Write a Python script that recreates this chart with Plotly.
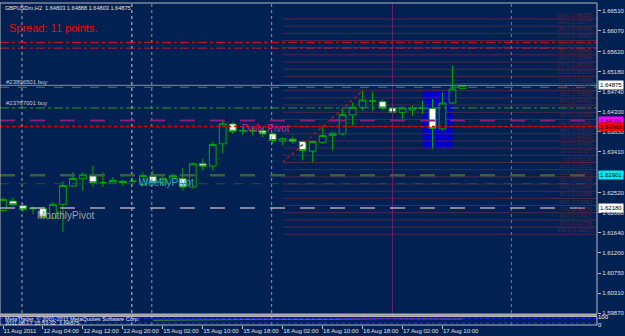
import plotly.graph_objects as go

BG = "#002152"
GREEN = "#00a800"

# ---------------- data ----------------
bars = list(range(47))
opens = [1.62127, 1.62331, 1.62230, 1.62160, 1.62164, 1.61958, 1.62259, 1.62660, 1.62822, 1.62894,
         1.62732, 1.62725, 1.62763, 1.62761, 1.62697, 1.62879, 1.62741, 1.62835, 1.62822, 1.62638,
         1.63157, 1.63098, 1.63589, 1.64027, 1.63874, 1.63876, 1.63880, 1.63808, 1.63646, 1.63690,
         1.63639, 1.63427, 1.63624, 1.63771, 1.63808, 1.64224, 1.64391, 1.64528, 1.64516, 1.64378,
         1.64281, 1.64334, 1.64366, 1.64369, 1.63917, 1.64487, 1.64803]
highs = [1.62412, 1.62412, 1.62287, 1.62215, 1.62199, 1.62302, 1.62769, 1.62966, 1.62966, 1.63113,
         1.62966, 1.62857, 1.62806, 1.62806, 1.62960, 1.63004, 1.62872, 1.62931, 1.63063, 1.63179,
         1.63260, 1.63639, 1.64099, 1.64062, 1.63953, 1.63953, 1.63953, 1.63843, 1.63733, 1.63749,
         1.63661, 1.63661, 1.63968, 1.63843, 1.64362, 1.64500, 1.64757, 1.64735, 1.64560, 1.64465,
         1.64406, 1.64428, 1.64538, 1.64575, 1.64720, 1.65305, 1.64888]
lows = [1.62083, 1.62215, 1.62090, 1.62039, 1.61952, 1.61930, 1.61652, 1.62638, 1.62550, 1.62638,
        1.62638, 1.62720, 1.62660, 1.62697, 1.62653, 1.62675, 1.62675, 1.62806, 1.62565, 1.62603,
        1.63004, 1.63004, 1.63383, 1.63808, 1.63786, 1.63771, 1.63733, 1.63589, 1.63552, 1.63595,
        1.63223, 1.63186, 1.63589, 1.63442, 1.63771, 1.63990, 1.64319, 1.64319, 1.64340, 1.64172,
        1.64143, 1.64209, 1.64246, 1.63479, 1.63880, 1.64465, 1.64803]
closes = [1.62368, 1.62252, 1.62149, 1.62166, 1.61974, 1.62259, 1.62675, 1.62828, 1.62909, 1.62734,
          1.62738, 1.62785, 1.62734, 1.62767, 1.62894, 1.62734, 1.62828, 1.62894, 1.62638, 1.63150,
          1.63098, 1.63573, 1.64027, 1.63865, 1.63880, 1.63882, 1.63808, 1.63661, 1.63698, 1.63646,
          1.63442, 1.63639, 1.63771, 1.63821, 1.64231, 1.64391, 1.64553, 1.64534, 1.64378, 1.64281,
          1.64378, 1.64378, 1.64372, 1.63931, 1.64487, 1.64794, 1.64875]

x_tick_bars = [0, 4, 8, 12, 16, 20, 24, 28, 32, 36, 40, 44]
x_tick_labels = ["11 Aug 2011", "12 Aug 04:00", "12 Aug 12:00", "12 Aug 20:00", "15 Aug 02:00",
                 "15 Aug 10:00", "15 Aug 18:00", "16 Aug 02:00", "16 Aug 10:00", "16 Aug 18:00",
                 "17 Aug 02:00", "17 Aug 10:00"]
price_ticks = [1.66510, 1.66070, 1.65620, 1.65180, 1.64740, 1.64300, 1.63850, 1.63410,
               1.62960, 1.62520, 1.62080, 1.61640, 1.61200, 1.60750, 1.60310, 1.59870]
price_tick_labels = [f"{p:.5f}" for p in price_ticks]

bid_price = 1.64875
order_prices = [1.64833, 1.64378]
order_labels = ["#23806501 buy", "#23767001 buy"]
tp_prices = [1.65820, 1.65692]
daily_pivot = 1.64102
red_level = 1.63968
weekly_pivot = 1.62901
weekly_mid = 1.62712
monthly_pivot = 1.62180

fib_low = 1.63179
fib_high = 1.64757
fib_bars = [28, 36]
fib_pcts = list(range(-100, 201, 10))

rect_bars = [42, 45]
rect_prices = [1.63479, 1.64757]

sep_bars = [2, 13, 15, 27, 51]
sep_colors = ["#c8a0a8", "#d0d0d8", "#b88890", "#b88890", "#8a7468"]
purple_bar = 39

ind_bars = list(range(15, 47))
ind_red = [62, 64, 63, 65, 66, 64, 63, 67, 70, 72, 71, 70, 69, 68, 66, 65,
           66, 67, 69, 72, 75, 78, 80, 79, 77, 75, 73, 72, 70, 69, 70, 72]
ind_green = [55, 57, 58, 60, 61, 60, 59, 62, 65, 68, 69, 68, 67, 66, 65, 63,
             64, 65, 67, 70, 73, 76, 79, 80, 78, 76, 74, 73, 71, 70, 71, 73]
ind_levels = [80, 20]

# ---------------- layout geometry ----------------
W, H = 625, 336
PL, PR, PT, PB = 0, 603, 2, 325
MAIN_BOTTOM_PX = 314
SUB_TOP_PX = 316.5
X_RANGE = [-0.3, 59.47]
Y_RANGE = [1.59848, 1.66685]


def py(yp):
    return (PB - yp) / (PB - PT)


def pxx(xp):
    return (xp - PL) / (PR - PL)


main_dom = [py(MAIN_BOTTOM_PX), 1]
sub_dom = [0, py(SUB_TOP_PX)]

fig = go.Figure()

fig.add_trace(go.Candlestick(
    x=bars, open=opens, high=highs, low=lows, close=closes,
    increasing=dict(line=dict(color=GREEN, width=1), fillcolor=BG),
    decreasing=dict(line=dict(color=GREEN, width=1), fillcolor="#ffffff"),
    whiskerwidth=0, showlegend=False, hoverinfo="skip",
    xaxis="x", yaxis="y",
))

fig.add_trace(go.Scatter(x=ind_bars, y=ind_green, mode="lines", line=dict(color="#2a9a3a", width=1),
                         xaxis="x", yaxis="y2", showlegend=False, hoverinfo="skip"))
fig.add_trace(go.Scatter(x=ind_bars, y=ind_red, mode="lines", line=dict(color="#c02020", width=1, dash="dot"),
                         xaxis="x", yaxis="y2", showlegend=False, hoverinfo="skip"))

shapes = []
# blue rectangle
shapes.append(dict(type="rect", xref="x", yref="y", x0=rect_bars[0], x1=rect_bars[1],
                   y0=rect_prices[0], y1=rect_prices[1], fillcolor="#0000c8",
                   line=dict(width=0), layer="below"))
# fib levels
fib_range = fib_high - fib_low
for p in fib_pcts:
    lvl = fib_low + p / 100 * fib_range
    if Y_RANGE[0] < lvl < Y_RANGE[1]:
        shapes.append(dict(type="line", xref="x", yref="y", x0=fib_bars[0], x1=X_RANGE[1],
                           y0=lvl, y1=lvl, line=dict(color="#50284a", width=1), layer="below"))
# fib diagonal
shapes.append(dict(type="line", xref="x", yref="y", x0=fib_bars[0], x1=fib_bars[1],
                   y0=fib_low, y1=fib_high, line=dict(color="#a01c1c", width=1.5, dash="dot")))

# vertical separators
for b, c in zip(sep_bars, sep_colors):
    shapes.append(dict(type="line", xref="x", yref="paper", x0=b - 0.1, x1=b - 0.1, y0=0, y1=1,
                       line=dict(color=c, width=1, dash="dot")))
shapes.append(dict(type="line", xref="x", yref="paper", x0=purple_bar, x1=purple_bar,
                   y0=main_dom[0], y1=1, line=dict(color="#6a2070", width=1)))


def hline(y, color, width=1, dash="solid"):
    shapes.append(dict(type="line", xref="paper", yref="y", x0=0, x1=1, y0=y, y1=y,
                       line=dict(color=color, width=width, dash=dash)))


hline(tp_prices[0], "#d81818", 1, "dashdot")
hline(tp_prices[1], "#b82038", 1, "dashdot")
hline(bid_price, "#8a8aa8", 1)
hline(order_prices[0], "#6e6e48", 1, "dash")
hline(order_prices[1], "#2a9a2a", 1, "dashdot")
hline(daily_pivot, "#86207a", 2, "longdash")
hline(red_level, "#e00000", 1.5, "dot")
hline(weekly_pivot, "#3c5c4c", 2.5, "longdash")
hline(weekly_mid, "#2c5044", 1, "dash")
hline(monthly_pivot, "#b4a4b4", 1.5, "longdash")

# indicator levels
for lv in ind_levels:
    shapes.append(dict(type="line", xref="paper", yref="y2", x0=0, x1=1, y0=lv, y1=lv,
                       line=dict(color="#2030ff", width=1, dash="dot")))

# frames and separator
shapes.append(dict(type="rect", xref="paper", yref="paper", x0=0, x1=1, y0=sub_dom[1], y1=main_dom[0],
                   fillcolor="#a0a0a0", line=dict(width=0)))
shapes.append(dict(type="rect", xref="paper", yref="paper", x0=0, x1=1, y0=main_dom[0], y1=1,
                   line=dict(color="#b8b8c0", width=1)))
shapes.append(dict(type="rect", xref="paper", yref="paper", x0=0, x1=1, y0=0, y1=sub_dom[1],
                   line=dict(color="#b8b8c0", width=1)))

ann = []
FONT = "Liberation Sans"
ann.append(dict(xref="paper", yref="paper", x=pxx(3), y=py(7), xanchor="left", yanchor="middle",
                text=f"GBPUSDm,H2  {opens[-1]:.5f} {highs[-1]:.5f} {lows[-1]:.5f} {closes[-1]:.5f}",
                showarrow=False, font=dict(family=FONT, size=5.6, color="#e0e0e0")))
ann.append(dict(xref="paper", yref="paper", x=pxx(7), y=py(27), xanchor="left", yanchor="middle",
                text="Spread: 11 points.", showarrow=False,
                font=dict(family=FONT, size=11, color="#ff0000")))
for p, t in zip(order_prices, order_labels):
    ann.append(dict(xref="paper", yref="y", x=pxx(4), y=p, xanchor="left", yanchor="bottom",
                    text=t, showarrow=False, yshift=0,
                    font=dict(family=FONT, size=6, color="#c8c8d0")))
ann.append(dict(xref="x", yref="y", x=23.7, y=daily_pivot, xanchor="left", yanchor="top",
                text="Daily Pivot", showarrow=False, font=dict(family=FONT, size=10, color="#c4289c")))
ann.append(dict(xref="x", yref="y", x=13.4, y=weekly_pivot, xanchor="left", yanchor="top",
                text="WeeklyPivot", showarrow=False, font=dict(family=FONT, size=10, color="#38a8b8")))
ann.append(dict(xref="x", yref="y", x=3.2, y=monthly_pivot, xanchor="left", yanchor="top",
                text="MonthlyPivot", showarrow=False, font=dict(family=FONT, size=10, color="#a0a0a8")))

# fib labels
for p in fib_pcts:
    lvl = fib_low + p / 100 * fib_range
    if Y_RANGE[0] < lvl < Y_RANGE[1]:
        ann.append(dict(xref="paper", yref="y", x=pxx(600), y=lvl, xanchor="right", yanchor="bottom",
                        text=f"{p:.1f} ({lvl:.5f})", showarrow=False, borderpad=0,
                        font=dict(family=FONT, size=5, color="#5e2840")))

# right price boxes
for val, bg in [(bid_price, "#ffffff"), (daily_pivot, "#ff00ff"), (red_level, "#ff0000"),
                (weekly_pivot, "#00e8f0"), (monthly_pivot, "#ffffff")]:
    ann.append(dict(xref="paper", yref="y", x=1, y=val, xanchor="left", yanchor="middle", xshift=1,
                    text=f"{val:.5f}", showarrow=False, bgcolor=bg, borderpad=1,
                    font=dict(family=FONT, size=6, color="#000000")))

# subwindow texts
ann.append(dict(xref="paper", yref="paper", x=pxx(3), y=py(318.5), xanchor="left", yanchor="middle",
                text="MetaTrader, © 2001-2011 MetaQuotes Software Corp.", showarrow=False,
                font=dict(family=FONT, size=5.6, color="#e8e8e8")))
ann.append(dict(xref="paper", yref="paper", x=pxx(3), y=py(322.5), xanchor="left", yanchor="middle",
                text="2011.08.17 15:53:32  1.64875", showarrow=False,
                font=dict(family=FONT, size=5.6, color="#e8e8e8")))

fig.update_layout(
    width=W, height=H,
    margin=dict(l=PL, r=W - PR, t=PT, b=H - PB, pad=0),
    paper_bgcolor=BG, plot_bgcolor=BG,
    boxgap=0.1, boxgroupgap=0.25,
    shapes=shapes, annotations=ann,
    showlegend=False, hovermode=False,
    xaxis=dict(range=X_RANGE, anchor="y2", tickvals=x_tick_bars, ticktext=x_tick_labels,
               ticklabelposition="outside right", tickangle=0, ticks="outside", ticklen=3,
               tickcolor="#c0c0c0",
               tickfont=dict(family=FONT, size=6, color="#e0e0e0"),
               showgrid=False, zeroline=False, showline=False,
               rangeslider=dict(visible=False), fixedrange=True),
    yaxis=dict(domain=main_dom, range=Y_RANGE, side="right", anchor="x",
               tickvals=price_ticks, ticktext=price_tick_labels,
               ticks="outside", ticklen=3, tickcolor="#c0c0c0",
               tickfont=dict(family=FONT, size=6, color="#e0e0e0"),
               showgrid=False, zeroline=False, showline=False),
    yaxis2=dict(domain=sub_dom, range=[-5, 105], side="right", anchor="x",
                tickvals=[100, 0], ticktext=["100", "0"], ticks="",
                tickfont=dict(family=FONT, size=6, color="#ffffff"),
                showgrid=False, zeroline=False, showline=False),
)

fig.write_html("out.html")
